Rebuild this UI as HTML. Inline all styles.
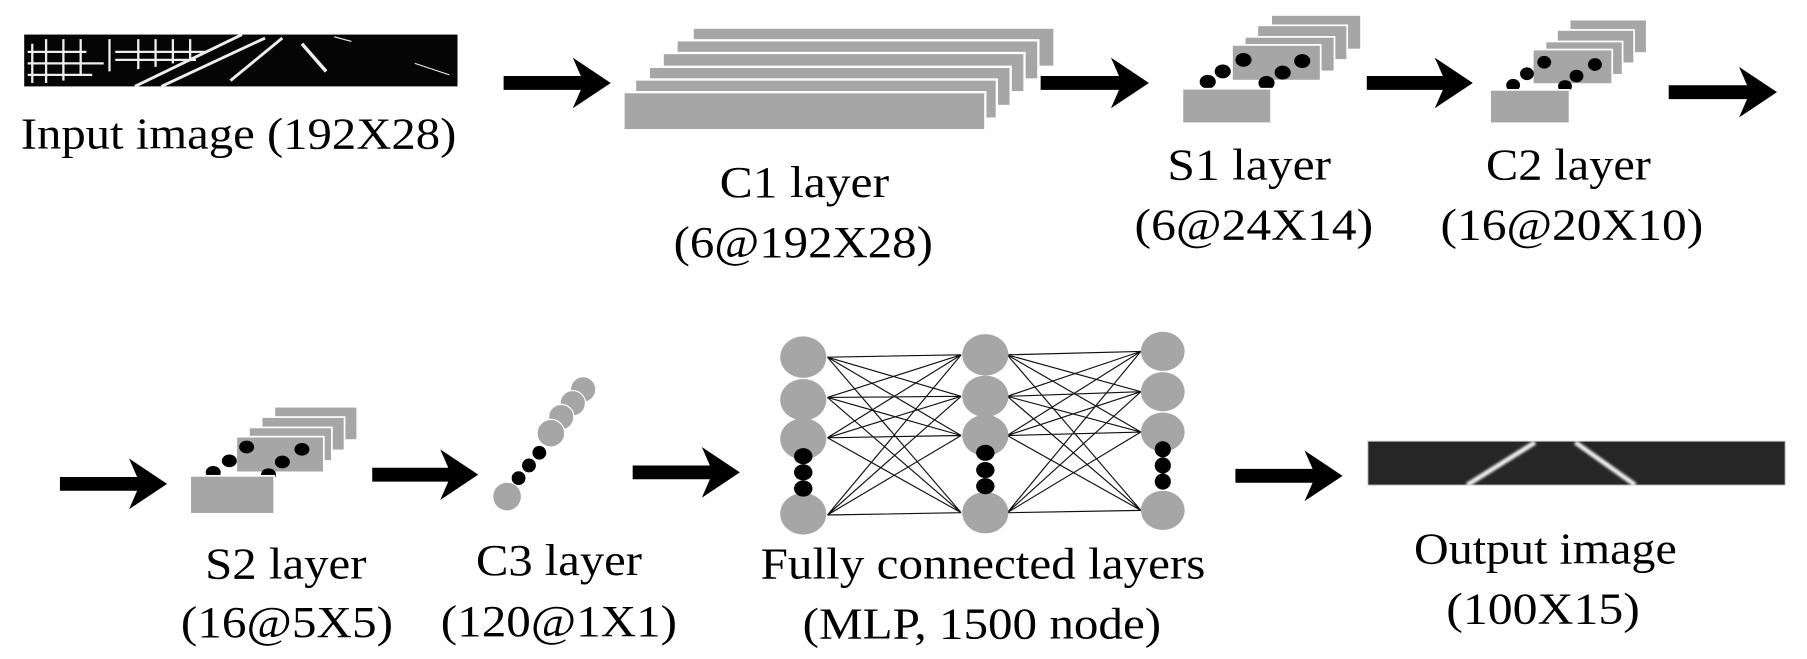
<!DOCTYPE html>
<html><head><meta charset="utf-8"><style>html,body{margin:0;padding:0;background:#fff}svg{display:block}</style></head>
<body>
<svg width="1807" height="659" viewBox="0 0 1568 572" preserveAspectRatio="none" xmlns="http://www.w3.org/2000/svg">
<defs>
<filter id="bl"><feGaussianBlur stdDeviation="1.2"/></filter>
</defs>
<!-- input image -->
<rect x="21" y="30" width="376" height="45" fill="#050505"/>
<g stroke="#eee" stroke-width="2" fill="none">
<path d="M28 38 V72 M40 34 V72 M55 34 V70 M70 34 V65 M95 34 V62 M120 34 V60 M135 34 V58 M150 34 V55 M165 34 V52"/>
<path d="M24 45 H75 M24 55 H90 M24 65 H80 M100 45 H180 M100 52 H170"/>
<path d="M117 75 L210 30 M140 75 L230 33 M200 70 L245 33" stroke-width="2.5"/>
<path d="M262 38 L283 62" stroke-width="3"/>
<path d="M290 32 L305 36 M360 55 L390 65" stroke-width="1"/>
</g>
<g fill="#000">
<polygon points="437,66 504,66 497,50 530,72 497,94 504,78 437,78"/>
<polygon points="903,66 971,66 964,50 997,72 964,94 971,78 903,78"/>
<polygon points="1186,66 1252,66 1245,50 1278,72 1245,94 1252,78 1186,78"/>
<polygon points="1448,74 1516,74 1509,58 1542,80 1509,102 1516,86 1448,86"/>
<polygon points="52,414 119,414 112,398 145,420 112,442 119,426 52,426"/>
<polygon points="323,406 389,406 382,390 415,412 382,434 389,418 323,418"/>
<polygon points="549,404 616,404 609,388 642,410 609,432 616,416 549,416"/>
<polygon points="1072,407 1139,407 1132,391 1165,413 1132,435 1139,419 1072,419"/>
</g>
<!-- C1 -->
<g fill="#a6a6a6" stroke="#fff" stroke-width="2">
<rect x="601" y="24" width="314" height="34"/>
<rect x="587" y="35" width="314" height="34"/>
<rect x="575" y="46" width="314" height="34"/>
<rect x="563" y="58" width="314" height="34"/>
<rect x="551" y="69" width="314" height="34"/>
<rect x="541" y="80" width="314" height="33"/>
</g>
<!-- S1 -->
<g fill="#a6a6a6" stroke="#fff" stroke-width="1.5">
<rect x="1103" y="13" width="78" height="30"/>
<rect x="1091" y="22" width="78" height="30"/>
<rect x="1080" y="32" width="78" height="30"/>
<rect x="1069" y="39" width="77" height="31"/>
</g>
<g fill="#000">
<ellipse cx="1048" cy="71" rx="7" ry="6"/><ellipse cx="1061" cy="62" rx="7" ry="6"/><ellipse cx="1079" cy="52" rx="7" ry="6"/>
<ellipse cx="1099" cy="72" rx="7" ry="6"/><ellipse cx="1113" cy="63" rx="7" ry="6"/><ellipse cx="1130" cy="53" rx="7" ry="6"/>
</g>
<rect x="1026" y="77" width="77" height="30" fill="#a6a6a6" stroke="#fff" stroke-width="1.5"/>
<!-- C2 -->
<g fill="#a6a6a6" stroke="#fff" stroke-width="1.5">
<rect x="1362" y="17" width="67" height="29"/>
<rect x="1351" y="26" width="67" height="29"/>
<rect x="1341" y="36" width="67" height="29"/>
<rect x="1330" y="43" width="69" height="30"/>
</g>
<g fill="#000">
<ellipse cx="1313" cy="74" rx="6" ry="5.5"/><ellipse cx="1325" cy="64" rx="6" ry="5.5"/><ellipse cx="1340" cy="54" rx="6" ry="5.5"/>
<ellipse cx="1358" cy="75" rx="6" ry="5.5"/><ellipse cx="1368" cy="66" rx="6" ry="5.5"/><ellipse cx="1384" cy="56" rx="6" ry="5.5"/>
</g>
<rect x="1293" y="78" width="69" height="29" fill="#a6a6a6" stroke="#fff" stroke-width="1.5"/>
<!-- S2 -->
<g fill="#a6a6a6" stroke="#fff" stroke-width="1.5">
<rect x="238" y="353" width="72" height="29"/>
<rect x="227" y="362" width="72" height="29"/>
<rect x="216" y="371" width="72" height="29"/>
<rect x="205" y="379" width="76" height="31"/>
</g>
<g fill="#000">
<ellipse cx="185" cy="410" rx="6.5" ry="5.5"/><ellipse cx="199" cy="400" rx="6.5" ry="5.5"/><ellipse cx="214" cy="388" rx="6.5" ry="5.5"/>
<ellipse cx="233" cy="412" rx="6.5" ry="5.5"/><ellipse cx="245" cy="401" rx="6.5" ry="5.5"/><ellipse cx="262" cy="390" rx="6.5" ry="5.5"/>
</g>
<rect x="165" y="413" width="73" height="33" fill="#a6a6a6" stroke="#fff" stroke-width="1.5"/>
<!-- C3 -->
<g fill="#a6a6a6" stroke="#fff" stroke-width="1">
<ellipse cx="506" cy="338" rx="11" ry="11"/><ellipse cx="497" cy="350" rx="11" ry="11"/><ellipse cx="487" cy="362" rx="11" ry="11"/><ellipse cx="478" cy="376" rx="12" ry="12"/>
</g>
<g fill="#000"><ellipse cx="468" cy="393" rx="6" ry="6"/><ellipse cx="459" cy="404" rx="6" ry="6"/><ellipse cx="450" cy="415" rx="6" ry="6"/></g>
<ellipse cx="440" cy="431" rx="12" ry="12" fill="#a6a6a6"/>
<!-- MLP -->
<g stroke="#111" stroke-width="1">
<path d="M718 310 L834 308 M718 310 L834 344 M718 310 L834 378 M718 310 L834 445
M718 345 L834 308 M718 345 L834 344 M718 345 L834 378 M718 345 L834 445
M718 380 L834 308 M718 380 L834 344 M718 380 L834 378 M718 380 L834 445
M718 447 L834 308 M718 447 L834 344 M718 447 L834 378 M718 447 L834 445"/>
<path d="M874 308 L990 305 M874 308 L990 340 M874 308 L990 375 M874 308 L990 443
M874 344 L990 305 M874 344 L990 340 M874 344 L990 375 M874 344 L990 443
M874 378 L990 305 M874 378 L990 340 M874 378 L990 375 M874 378 L990 443
M874 445 L990 305 M874 445 L990 340 M874 445 L990 375 M874 445 L990 443"/>
</g>
<g fill="#a6a6a6">
<ellipse cx="697" cy="310" rx="20" ry="18"/><ellipse cx="697" cy="347" rx="20" ry="18"/><ellipse cx="697" cy="381" rx="20" ry="18"/><ellipse cx="697" cy="446" rx="20" ry="18"/>
<ellipse cx="855" cy="308" rx="20" ry="18"/><ellipse cx="855" cy="344" rx="20" ry="18"/><ellipse cx="855" cy="378" rx="20" ry="18"/><ellipse cx="855" cy="445" rx="20" ry="18"/>
<ellipse cx="1009" cy="305" rx="19" ry="17"/><ellipse cx="1009" cy="340" rx="19" ry="17"/><ellipse cx="1009" cy="375" rx="19" ry="17"/><ellipse cx="1009" cy="443" rx="19" ry="17"/>
</g>
<g fill="#000">
<ellipse cx="697" cy="396" rx="8" ry="7"/><ellipse cx="697" cy="410" rx="8" ry="7"/><ellipse cx="697" cy="424" rx="8" ry="7"/>
<ellipse cx="855" cy="393" rx="8" ry="7"/><ellipse cx="855" cy="408" rx="8" ry="7"/><ellipse cx="855" cy="422" rx="8" ry="7"/>
<ellipse cx="1009" cy="390" rx="7" ry="7"/><ellipse cx="1009" cy="404" rx="7" ry="7"/><ellipse cx="1009" cy="418" rx="7" ry="7"/>
</g>
<!-- output -->
<rect x="1187" y="383" width="362" height="38" fill="#262626" stroke="#bbb" stroke-width="0.8"/>
<g stroke="#f2f2f2" stroke-width="4" filter="url(#bl)">
<line x1="1273" y1="421" x2="1332" y2="384"/>
<line x1="1367" y1="384" x2="1419" y2="421"/>
</g>
<!-- labels -->
<g font-family="Liberation Serif, serif" font-size="39" fill="#000" text-anchor="middle">
<text x="207" y="129" textLength="378" lengthAdjust="spacingAndGlyphs">Input image (192X28)</text>
<text x="698" y="171" textLength="147" lengthAdjust="spacingAndGlyphs">C1 layer</text>
<text x="697" y="223" textLength="225" lengthAdjust="spacingAndGlyphs">(6@192X28)</text>
<text x="1084" y="156" textLength="142" lengthAdjust="spacingAndGlyphs">S1 layer</text>
<text x="1088" y="208" textLength="207" lengthAdjust="spacingAndGlyphs">(6@24X14)</text>
<text x="1361" y="156" textLength="143" lengthAdjust="spacingAndGlyphs">C2 layer</text>
<text x="1364" y="208" textLength="228" lengthAdjust="spacingAndGlyphs">(16@20X10)</text>
<text x="248" y="502" textLength="140" lengthAdjust="spacingAndGlyphs">S2 layer</text>
<text x="249" y="553" textLength="184" lengthAdjust="spacingAndGlyphs">(16@5X5)</text>
<text x="485" y="499" textLength="144" lengthAdjust="spacingAndGlyphs">C3 layer</text>
<text x="485" y="552" textLength="205" lengthAdjust="spacingAndGlyphs">(120@1X1)</text>
<text x="853" y="502" textLength="386" lengthAdjust="spacingAndGlyphs">Fully connected layers</text>
<text x="852" y="554" textLength="311" lengthAdjust="spacingAndGlyphs">(MLP, 1500 node)</text>
<text x="1341" y="489" textLength="228" lengthAdjust="spacingAndGlyphs">Output image</text>
<text x="1339" y="541" textLength="168" lengthAdjust="spacingAndGlyphs">(100X15)</text>
</g>
</svg>
</body></html>
